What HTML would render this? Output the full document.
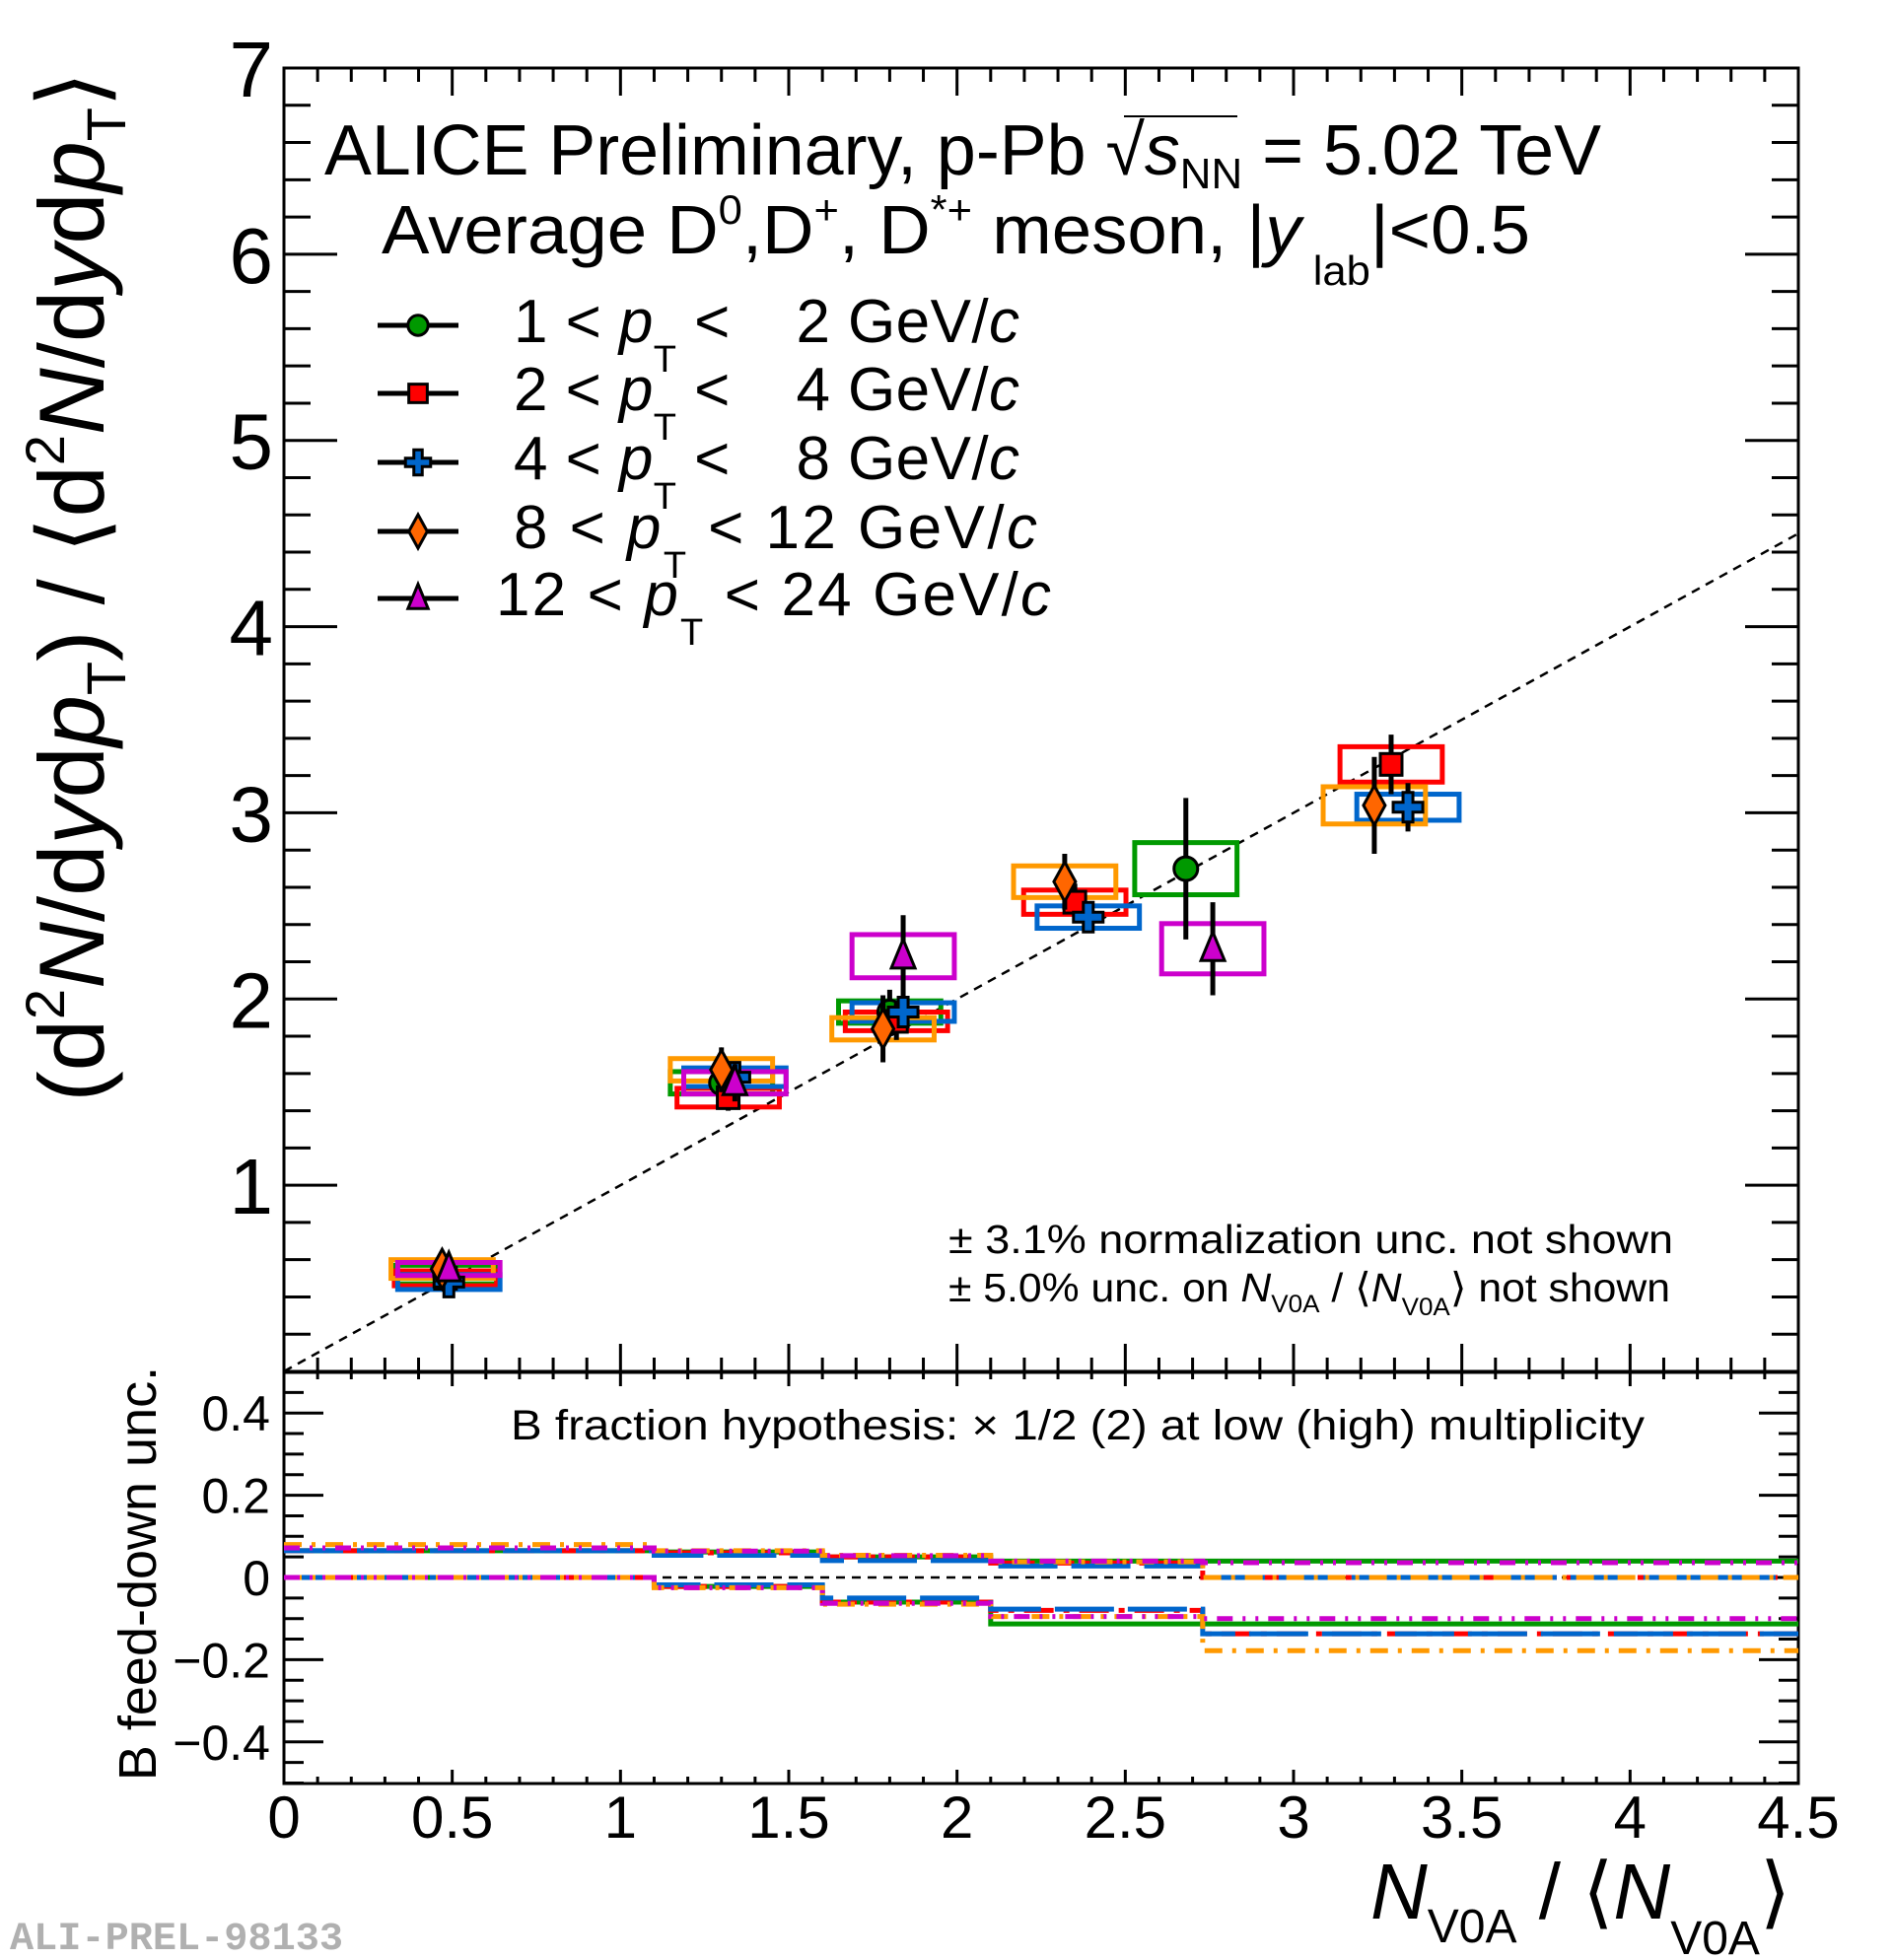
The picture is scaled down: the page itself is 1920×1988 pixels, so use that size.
<!DOCTYPE html>
<html><head><meta charset="utf-8"><style>
html,body{margin:0;padding:0;background:#fff;}
svg{display:block;font-family:"Liberation Sans",Arial,sans-serif;}
</style></head><body>
<svg id="chart" width="1920" height="1988" viewBox="0 0 1920 1988" xmlns="http://www.w3.org/2000/svg">
<g id="upper"></g>
<g id="lower"></g>
<g id="texts">
  <text x="329" y="177" font-size="72" textLength="1295" lengthAdjust="spacingAndGlyphs">ALICE Preliminary, p-Pb <tspan font-size="72">√</tspan><tspan font-style="italic">s</tspan><tspan font-size="44" dy="14">NN</tspan><tspan dy="-14"> = 5.02 TeV</tspan></text>
  <line x1="1140" y1="118" x2="1255" y2="118" stroke="#000" stroke-width="2"/>
  <text x="387" y="257" font-size="70" textLength="1165" lengthAdjust="spacingAndGlyphs">Average D<tspan font-size="42" dy="-30">0</tspan><tspan dy="30">,D</tspan><tspan font-size="42" dy="-30">+</tspan><tspan dy="30">, D</tspan><tspan font-size="42" dy="-30">*+</tspan><tspan dy="30"> meson, |</tspan><tspan font-style="italic">y</tspan><tspan font-size="42" dy="32"> lab</tspan><tspan dy="-32">|&lt;0.5</tspan></text>
  <text x="962" y="1271" font-size="41" textLength="735" lengthAdjust="spacingAndGlyphs">± 3.1% normalization unc. not shown</text>
  <text x="962" y="1320" font-size="41" textLength="732" lengthAdjust="spacingAndGlyphs">± 5.0% unc. on <tspan font-style="italic">N</tspan><tspan font-size="25" dy="11">V0A</tspan><tspan dy="-11"> / ⟨</tspan><tspan font-style="italic">N</tspan><tspan font-size="25" dy="14">V0A</tspan><tspan dy="-14">⟩ not shown</tspan></text>
  <text x="518" y="1460" font-size="43" textLength="1150" lengthAdjust="spacingAndGlyphs">B fraction hypothesis: × 1/2 (2) at low (high) multiplicity</text>
  <text transform="translate(105,595) rotate(-90)" text-anchor="middle" font-size="94">(d<tspan font-size="56" dy="-40">2</tspan><tspan dy="40" font-style="italic">N</tspan><tspan>/d</tspan><tspan font-style="italic">y</tspan><tspan>d</tspan><tspan font-style="italic">p</tspan><tspan font-size="56" dy="22">T</tspan><tspan dy="-22">) / ⟨d</tspan><tspan font-size="56" dy="-40">2</tspan><tspan dy="40" font-style="italic">N</tspan><tspan>/d</tspan><tspan font-style="italic">y</tspan><tspan>d</tspan><tspan font-style="italic">p</tspan><tspan font-size="56" dy="22">T</tspan><tspan dy="-22">⟩</tspan></text>
  <text transform="translate(158,1596) rotate(-90)" text-anchor="middle" font-size="54">B feed-down unc.</text>
  <text x="1390" y="1946" font-size="80"><tspan font-style="italic">N</tspan><tspan font-size="48" dy="24">V0A</tspan><tspan dy="-24"> / ⟨</tspan><tspan font-style="italic">N</tspan><tspan font-size="48" dy="36">V0A</tspan><tspan dy="-36">⟩</tspan></text>
  <text x="10" y="1977" font-family="Liberation Mono, monospace" font-weight="bold" font-size="40" fill="#b0b0b0" textLength="338" lengthAdjust="spacingAndGlyphs">ALI-PREL-98133</text>
</g>
<g id="legend"></g>
</svg>
<script>
// ---------- data ----------
const xTicks = [0, 0.5, 1, 1.5, 2, 2.5, 3, 3.5, 4, 4.5];
const xTickLabels = ["0", "0.5", "1", "1.5", "2", "2.5", "3", "3.5", "4", "4.5"];
const yTicks = [1, 2, 3, 4, 5, 6, 7];
const yTickLabels = ["1", "2", "3", "4", "5", "6", "7"];
const lowerYTicks = [0.4, 0.2, 0, -0.2, -0.4];
const lowerYTickLabels = ["0.4", "0.2", "0", "\u22120.2", "\u22120.4"];

const seriesNames = ["1 < pT < 2", "2 < pT < 4", "4 < pT < 8", "8 < pT < 12", "12 < pT < 24"];
const greenX = [0.48, 1.30, 1.80, 2.68];
const greenY = [0.52, 1.55, 1.93, 2.70];
const greenStat = [0.03, 0.08, 0.12, 0.38];
const greenSys = [0.05, 0.06, 0.06, 0.14];
const redX = [0.48, 1.32, 1.82, 2.35, 3.29];
const redY = [0.50, 1.47, 1.88, 2.52, 3.26];
const redStat = [0.03, 0.07, 0.10, 0.10, 0.16];
const redSys = [0.04, 0.05, 0.05, 0.065, 0.095];
const blueX = [0.49, 1.34, 1.84, 2.39, 3.34];
const blueY = [0.48, 1.58, 1.93, 2.44, 3.03];
const blueStat = [0.04, 0.07, 0.08, 0.08, 0.13];
const blueSys = [0.04, 0.05, 0.05, 0.06, 0.07];
const orangeX = [0.47, 1.30, 1.78, 2.32, 3.24];
const orangeY = [0.55, 1.62, 1.84, 2.63, 3.04];
const orangeStat = [0.05, 0.12, 0.18, 0.15, 0.26];
const orangeSys = [0.05, 0.06, 0.06, 0.085, 0.10];
const magentaX = [0.49, 1.34, 1.84, 2.76];
const magentaY = [0.55, 1.55, 2.23, 2.27];
const magentaStat = [0.05, 0.10, 0.22, 0.25];
const magentaSys = [0.035, 0.06, 0.116, 0.135];
const sysHalfWidth = 0.152;

const fdBinEdges = [0, 1.1, 1.6, 2.1, 2.73, 4.5];
const greenFdUp = [0.065, 0.062, 0.05, 0.04, 0.04];
const greenFdLow = [0, -0.022, -0.06, -0.113, -0.113];
const redFdUp = [0.065, 0.06, 0.05, 0.035, 0.0];
const redFdLow = [0, -0.022, -0.06, -0.08, -0.137];
const blueFdUp = [0.065, 0.054, 0.041, 0.028, 0.0];
const blueFdLow = [0, -0.018, -0.05, -0.077, -0.137];
const orangeFdUp = [0.08, 0.065, 0.054, 0.038, 0.0];
const orangeFdLow = [0, -0.025, -0.065, -0.095, -0.178];
const magentaFdUp = [0.072, 0.064, 0.053, 0.04, 0.036];
const magentaFdLow = [0, -0.025, -0.063, -0.095, -0.10];

// ---------- geometry ----------
const L = 288, R = 1824;
const UT = 69, UB = 1391;
const LT = 1392, LB = 1809;
const sx = v => L + (v / 4.5) * (R - L);
const sy = v => UB - (v / 7) * (UB - UT);
const ly = v => 1600 - v * 417;

const NS = "http://www.w3.org/2000/svg";
function mk(parent, tag, attrs) {
  const e = document.createElementNS(NS, tag);
  for (const k in attrs) e.setAttribute(k, attrs[k]);
  parent.appendChild(e);
  return e;
}
const up = document.getElementById("upper");
const lo = document.getElementById("lower");
const leg = document.getElementById("legend");

// ---------- upper frame & ticks ----------
let fr = mk(up, "rect", {x: L, y: UT, width: R - L, height: UB - UT, fill: "none", stroke: "#000", "stroke-width": 3});


for (let i = 0; i <= 45; i++) {
  const v = i * 0.1, x = sx(v), major = (i % 5 === 0);
  const len = major ? 28 : 14;
  let t = mk(up, "line", {x1: x, y1: UB, x2: x, y2: UB - len, stroke: "#000", "stroke-width": 3});
  
  
  let t2 = mk(up, "line", {x1: x, y1: UT, x2: x, y2: UT + len, stroke: "#000", "stroke-width": 3});
  
  
}
for (let i = 0; i <= 35; i++) {
  const v = i * 0.2, y = sy(v), major = (i % 5 === 0);
  const len = major ? 54 : 27;
  let t = mk(up, "line", {x1: L, y1: y, x2: L + len, y2: y, stroke: "#000", "stroke-width": 3});
  
  
  let t2 = mk(up, "line", {x1: R, y1: y, x2: R - len, y2: y, stroke: "#000", "stroke-width": 3});
  
  
}
yTicks.forEach((v, i) => {
  let t = mk(up, "text", {x: 277, y: sy(v) + 29, "text-anchor": "end", "font-size": 80});
  t.textContent = yTickLabels[i];
  
  
});

// reference line y = x
let ref = mk(up, "line", {x1: sx(0), y1: sy(0), x2: sx(4.5), y2: sy(4.5), stroke: "#000", "stroke-width": 2.5, "stroke-dasharray": "9 7"});



// ---------- series ----------
const series = [
  {key: "green", X: greenX, Y: greenY, S: greenStat, Y2: greenSys, box: "#009900", fill: "#009900", m: "circle"},
  {key: "red", X: redX, Y: redY, S: redStat, Y2: redSys, box: "#ff0000", fill: "#ff0000", m: "square"},
  {key: "blue", X: blueX, Y: blueY, S: blueStat, Y2: blueSys, box: "#0066cc", fill: "#0066cc", m: "cross"},
  {key: "orange", X: orangeX, Y: orangeY, S: orangeStat, Y2: orangeSys, box: "#ff9900", fill: "#ff6600", m: "diamond"},
  {key: "magenta", X: magentaX, Y: magentaY, S: magentaStat, Y2: magentaSys, box: "#cc00cc", fill: "#cc00cc", m: "triangle"}
];

function marker(parent, type, cx, cy, fill, s) {
  s = s || 1;
  let e;
  if (type === "circle") e = mk(parent, "circle", {cx, cy, r: 12 * s});
  else if (type === "square") e = mk(parent, "rect", {x: cx - 11 * s, y: cy - 11 * s, width: 22 * s, height: 22 * s});
  else if (type === "diamond") e = mk(parent, "polygon", {points: `${cx},${cy - 20 * s} ${cx + 11 * s},${cy} ${cx},${cy + 20 * s} ${cx - 11 * s},${cy}`});
  else if (type === "triangle") e = mk(parent, "polygon", {points: `${cx},${cy - 17 * s} ${cx + 12 * s},${cy + 12 * s} ${cx - 12 * s},${cy + 12 * s}`});
  else {
    const a = 5 * s, b = 15 * s;
    e = mk(parent, "polygon", {points: `${cx - a},${cy - b} ${cx + a},${cy - b} ${cx + a},${cy - a} ${cx + b},${cy - a} ${cx + b},${cy + a} ${cx + a},${cy + a} ${cx + a},${cy + b} ${cx - a},${cy + b} ${cx - a},${cy + a} ${cx - b},${cy + a} ${cx - b},${cy - a} ${cx - a},${cy - a}`});
  }
  e.setAttribute("fill", fill);
  e.setAttribute("stroke", "#000");
  e.setAttribute("stroke-width", 3);
  return e;
}

series.forEach(s => {
  s.X.forEach((x, i) => {
    let b = mk(up, "rect", {x: sx(x - sysHalfWidth), y: sy(s.Y[i] + s.Y2[i]), width: sx(x + sysHalfWidth) - sx(x - sysHalfWidth), height: sy(s.Y[i] - s.Y2[i]) - sy(s.Y[i] + s.Y2[i]), fill: "none", stroke: s.box, "stroke-width": 5});
    
    
  });
});
series.forEach(s => {
  s.X.forEach((x, i) => {
    let e = mk(up, "line", {x1: sx(x), y1: sy(s.Y[i] + s.S[i]), x2: sx(x), y2: sy(s.Y[i] - s.S[i]), stroke: "#000", "stroke-width": 5});
    
    
    let m = marker(up, s.m, sx(x), sy(s.Y[i]), s.fill);
    
    
  });
});

// ---------- legend ----------
const legendLabels = [["1", "2"], ["2", "4"], ["4", "8"], ["8", "12"], ["12", "24"]];
const legendY = [330, 399, 469, 539, 607];
series.forEach((s, i) => {
  const y = legendY[i];
  let ln = mk(leg, "line", {x1: 383, y1: y, x2: 465, y2: y, stroke: "#000", "stroke-width": 5});
  
  
  let m = marker(leg, s.m, 424, y, s.fill, 0.85);
  
  
  const lo1 = legendLabels[i][0], hi = legendLabels[i][1];
  const x0 = lo1.length > 1 ? 503 : 521;
  const x1 = lo1.length > 1 ? 1066 : (hi.length > 1 ? 1052 : 1034);
  let t = mk(leg, "text", {x: x0, y: y + 17, "font-size": 62, textLength: x1 - x0, lengthAdjust: "spacing"});
  
  
  t.innerHTML = `${lo1} &lt; <tspan font-style="italic">p</tspan><tspan font-size="38" dy="30">T</tspan><tspan dy="-30"> &lt; ${hi.length > 1 ? " " : "\u2002 "}${hi} GeV/</tspan><tspan font-style="italic">c</tspan>`;
});

// ---------- lower pad ----------
let fr2 = mk(lo, "rect", {x: L, y: LT, width: R - L, height: LB - LT, fill: "none", stroke: "#000", "stroke-width": 3});


for (let i = 0; i <= 45; i++) {
  const x = sx(i * 0.1), major = (i % 5 === 0), len = major ? 14 : 7;
  let t = mk(lo, "line", {x1: x, y1: LB, x2: x, y2: LB - len, stroke: "#000", "stroke-width": 3});
  
  
  let t2 = mk(lo, "line", {x1: x, y1: LT, x2: x, y2: LT + len, stroke: "#000", "stroke-width": 3});
  
  
}
for (let i = -10; i <= 10; i++) {
  const y = ly(i * 0.05), major = (i % 4 === 0), len = major ? 40 : 20;
  let t = mk(lo, "line", {x1: L, y1: y, x2: L + len, y2: y, stroke: "#000", "stroke-width": 3});
  
  
  let t2 = mk(lo, "line", {x1: R, y1: y, x2: R - len, y2: y, stroke: "#000", "stroke-width": 3});
  
  
}
lowerYTicks.forEach((v, i) => {
  let t = mk(lo, "text", {x: 274, y: ly(v) + 18, "text-anchor": "end", "font-size": 50});
  t.textContent = lowerYTickLabels[i];
  
  
});
xTicks.forEach((v, i) => {
  let t = mk(lo, "text", {x: sx(v), y: 1864, "text-anchor": "middle", "font-size": 60});
  t.textContent = xTickLabels[i];
  
  
});
let zl = mk(lo, "line", {x1: L, y1: ly(0), x2: R, y2: ly(0), stroke: "#000", "stroke-width": 2.5, "stroke-dasharray": "9 7"});



const fdSeries = [
  {key: "green", up: greenFdUp, low: greenFdLow, c: "#009900", dash: ""},
  {key: "red", up: redFdUp, low: redFdLow, c: "#ff0000", dash: "30 10 6 10"},
  {key: "blue", up: blueFdUp, low: blueFdLow, c: "#0066cc", dash: "60 14"},
  {key: "orange", up: orangeFdUp, low: orangeFdLow, c: "#ff9900", dash: "18 10 4 10"},
  {key: "magenta", up: magentaFdUp, low: magentaFdLow, c: "#cc00cc", dash: "16 10 3 10 3 10"}
];
function stepPath(vals) {
  let d = "";
  vals.forEach((v, i) => {
    const x0 = sx(fdBinEdges[i]), x1 = sx(fdBinEdges[i + 1]), y = ly(v);
    d += (i === 0 ? `M${x0},${y}` : `L${x0},${y}`) + `L${x1},${y}`;
  });
  return d;
}
fdSeries.forEach(s => {
  [["up", s.up], ["low", s.low]].forEach(([nm, vals]) => {
    const attrs = {d: stepPath(vals), fill: "none", stroke: s.c, "stroke-width": 5};
    if (s.dash) attrs["stroke-dasharray"] = s.dash;
    let p = mk(lo, "path", attrs);
    
    
  });
});
</script>
</body></html>
